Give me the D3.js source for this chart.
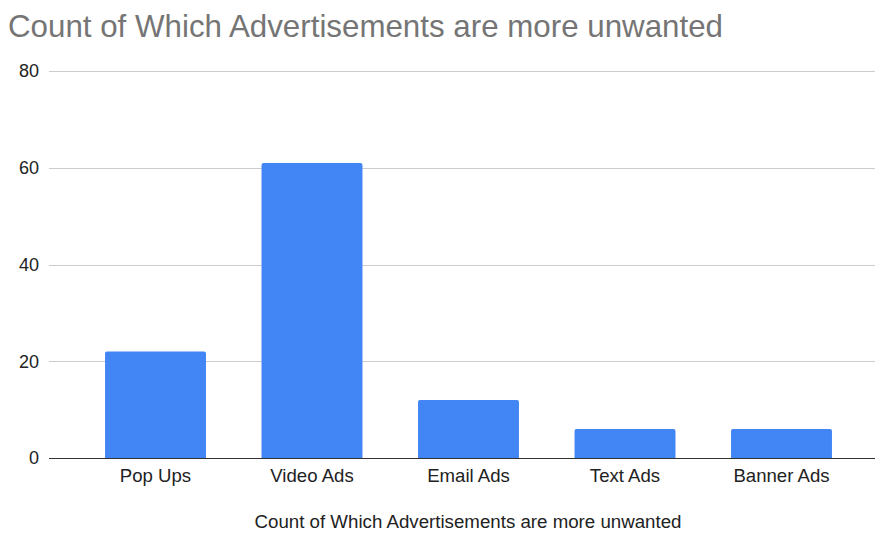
<!DOCTYPE html>
<html>
<head>
<meta charset="utf-8">
<script src="https://cdn.jsdelivr.net/npm/d3@7"></script>
<style>
  html, body { margin: 0; padding: 0; background: #fff; }
  svg { display: block; font-family: "Liberation Sans", Arial, sans-serif; }
</style>
</head>
<body>
<svg id="chart" width="875" height="533"></svg>
<script>
// Data
const categories = ["Pop Ups", "Video Ads", "Email Ads", "Text Ads", "Banner Ads"];
const counts = [22, 61, 12, 6, 6];
const yTicks = [0, 20, 40, 60, 80];

const titleText = "Count of Which Advertisements are more unwanted";
const xAxisTitle = "Count of Which Advertisements are more unwanted";

const svg = d3.select("#chart");

const gridLeft = 49, gridRight = 875;
const y = d3.scaleLinear().domain([0, 80]).range([458, 71]);
const x = d3.scaleBand()
  .domain(categories)
  .range([77.25, 859.75])
  .paddingInner(0.355)
  .paddingOuter(0.1775);

// Title
svg.append("text")
  .attr("x", 8)
  .attr("y", 37)
  .attr("fill", "#757575")
  .attr("font-size", 31.3)
  .text(titleText);

// Gridlines
svg.append("g").selectAll("line")
  .data(yTicks.filter(d => d !== 0))
  .join("line")
  .attr("x1", gridLeft).attr("x2", gridRight)
  .attr("y1", d => Math.round(y(d)) + 0.5)
  .attr("y2", d => Math.round(y(d)) + 0.5)
  .attr("stroke", "#cccccc")
  .attr("stroke-width", 1);

// Y tick labels
svg.append("g").selectAll("text")
  .data(yTicks)
  .join("text")
  .attr("x", 39)
  .attr("y", d => y(d))
  .attr("dy", "0.35em")
  .attr("text-anchor", "end")
  .attr("font-size", 18)
  .attr("fill", "#222222")
  .text(d => d);

// Bars with slightly rounded tops
const r = 2;
svg.append("g").selectAll("path")
  .data(categories.map((c, i) => ({ c, v: counts[i] })))
  .join("path")
  .attr("fill", "#4285f4")
  .attr("d", d => {
    const x0 = x(d.c), w = x.bandwidth();
    const y0 = y(d.v), y1 = y(0);
    return `M${x0},${y1}V${y0 + r}Q${x0},${y0} ${x0 + r},${y0}H${x0 + w - r}Q${x0 + w},${y0} ${x0 + w},${y0 + r}V${y1}Z`;
  });

// Baseline
svg.append("line")
  .attr("x1", gridLeft).attr("x2", gridRight)
  .attr("y1", Math.round(y(0)) + 0.5).attr("y2", Math.round(y(0)) + 0.5)
  .attr("stroke", "#333333")
  .attr("stroke-width", 1);

// Category labels
const xAxis = d3.axisBottom(x).tickSize(0).tickPadding(0);
const gx = svg.append("g").attr("transform", "translate(0,481.5)").call(xAxis);
gx.select(".domain").remove();
gx.selectAll("text")
  .attr("dy", 0)
  .attr("y", 0)
  .attr("font-size", 18.6)
  .attr("font-family", "Liberation Sans, Arial, sans-serif")
  .attr("fill", "#222222");

// Axis title
svg.append("text")
  .attr("x", 468)
  .attr("y", 528)
  .attr("text-anchor", "middle")
  .attr("font-size", 18.7)
  .attr("fill", "#222222")
  .text(xAxisTitle);
</script>
</body>
</html>
